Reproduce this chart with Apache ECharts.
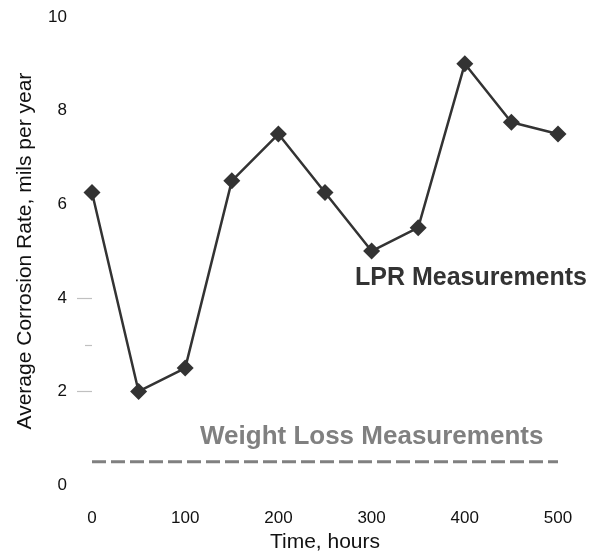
<!DOCTYPE html>
<html><head><meta charset="utf-8">
<script src="https://cdn.jsdelivr.net/npm/echarts@6/dist/echarts.min.js"></script>
<style>html,body{margin:0;padding:0;background:#fff}#c{width:592px;height:558px}</style>
</head><body><div id="c"></div>
<script>
const hours = [0, 50, 100, 150, 200, 250, 300, 350, 400, 450, 500];
const lprRate = [6.25, 2, 2.5, 6.5, 7.5, 6.25, 5, 5.5, 9, 7.75, 7.5];
const weightLossHours = [0, 500];
const weightLossRate = [0.5, 0.5];
const xTicks = [0, 100, 200, 300, 400, 500];
const yTicks = [0, 2, 4, 6, 8, 10];
const strayTickValues = [4, 3, 2];

const chart = echarts.init(document.getElementById('c'));
const font = 'Liberation Sans, Arial, sans-serif';
chart.setOption({
  animation: false,
  grid: {left: 92, right: 34, top: 17, bottom: 68},
  xAxis: {
    type: 'value', min: xTicks[0], max: xTicks[xTicks.length-1], interval: 100,
    axisLine: {show: false}, axisTick: {show: false}, splitLine: {show: false},
    axisLabel: {margin: 25, fontSize: 17, color: '#111', fontFamily: font},
    name: 'Time, hours', nameLocation: 'middle', nameGap: 46,
    nameTextStyle: {fontSize: 21, color: '#111', fontFamily: font}
  },
  yAxis: {
    type: 'value', min: yTicks[0], max: yTicks[yTicks.length-1], interval: 2,
    axisLine: {show: false}, axisTick: {show: false}, splitLine: {show: false},
    axisLabel: {margin: 25, fontSize: 17, color: '#111', fontFamily: font},
    name: 'Average Corrosion Rate, mils per year', nameLocation: 'middle', nameGap: 56,
    nameTextStyle: {fontSize: 21, color: '#111', fontFamily: font}
  },
  series: [
    {
      type: 'line', data: hours.map((h, i) => [h, lprRate[i]]),
      symbol: 'diamond', symbolSize: 17,
      lineStyle: {color: '#333', width: 2.5},
      itemStyle: {color: '#333'}, z: 3
    },
    {
      type: 'line', data: weightLossHours.map((h, i) => [h, weightLossRate[i]]),
      symbol: 'none',
      lineStyle: {color: '#808080', width: 3, type: [14, 5]}, z: 2
    }
  ],
  graphic: [
    {id: 'lpr', type: 'text', left: 355, top: 266, style: {text: 'LPR Measurements', font: 'bold 25px ' + font, fill: '#333'}},
    {id: 'wl', type: 'text', left: 200, top: 424, style: {text: 'Weight Loss Measurements', font: 'bold 26px ' + font, fill: '#808080'}}
  ]
});

// small stray tick marks left of the y axis, placed through the axis scale
const tickLen = [15, 7, 15];
const tickEls = strayTickValues.map((v, i) => {
  const p = chart.convertToPixel({gridIndex: 0}, [0, v]);
  const y = Math.round(p[1]) + 0.5;
  return {
    id: 'tick' + i, type: 'line', z: 1,
    shape: {x1: p[0] - tickLen[i], y1: y, x2: p[0], y2: y},
    style: {stroke: '#c0c0c0', lineWidth: 1.2}
  };
});
chart.setOption({graphic: tickEls});
</script></body></html>
